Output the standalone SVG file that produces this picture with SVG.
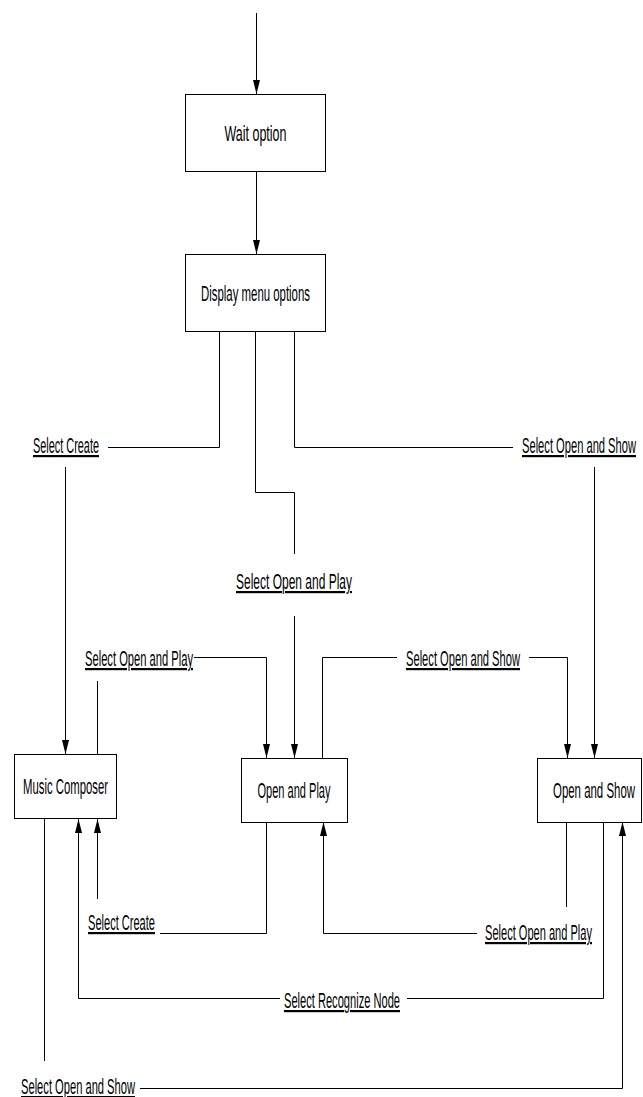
<svg xmlns="http://www.w3.org/2000/svg" width="643" height="1097" viewBox="0 0 643 1097">
<style>
.box{fill:#fff;stroke:#000;stroke-width:1}
.ln{fill:none;stroke:#000;stroke-width:1}
.t{font-family:"Liberation Sans",Arial,sans-serif;font-size:22px;fill:#000}
.c{text-anchor:middle}
.u{text-decoration:underline}
</style>
<defs>
<marker id="ah" markerUnits="userSpaceOnUse" markerWidth="14" markerHeight="8" refX="14" refY="4" orient="auto">
<path d="M0,0.5 L14,4 L0,7.5 z" fill="#000"/>
</marker>
</defs>
<g id="connectors">
<path class="ln" d="M256.5,13 V94" marker-end="url(#ah)"/>
<path class="ln" d="M256.5,172 V254" marker-end="url(#ah)"/>
<path class="ln" d="M219.5,332 V447.5 H108"/>
<path class="ln" d="M65.5,467 V754" marker-end="url(#ah)"/>
<path class="ln" d="M255.5,332 V492.5 H294.5 V554"/>
<path class="ln" d="M294.5,616 V758" marker-end="url(#ah)"/>
<path class="ln" d="M294.5,332 V447.5 H513"/>
<path class="ln" d="M594.5,467 V758" marker-end="url(#ah)"/>
<path class="ln" d="M97.5,754 V681"/>
<path class="ln" d="M194,657.5 H266.5 V758" marker-end="url(#ah)"/>
<path class="ln" d="M322.5,758 V657.5 H397"/>
<path class="ln" d="M529,657.5 H567.5 V758" marker-end="url(#ah)"/>
<path class="ln" d="M266.5,822 V933.5 H160"/>
<path class="ln" d="M97.5,899 V819" marker-end="url(#ah)"/>
<path class="ln" d="M566.5,822 V907"/>
<path class="ln" d="M477,933.5 H323.5 V822" marker-end="url(#ah)"/>
<path class="ln" d="M603.5,822 V998.5 H407"/>
<path class="ln" d="M280,998.5 H78.5 V819" marker-end="url(#ah)"/>
<path class="ln" d="M44.5,819 V1061"/>
<path class="ln" d="M140,1088.5 H622.5 V822" marker-end="url(#ah)"/>
</g>
<g id="labels">
<text class="t u" x="33" y="453" textLength="66" lengthAdjust="spacingAndGlyphs">Select Create</text>
<text class="t u" x="522" y="453" textLength="114" lengthAdjust="spacingAndGlyphs">Select Open and Show</text>
<text class="t u" x="236" y="589" textLength="116" lengthAdjust="spacingAndGlyphs">Select Open and Play</text>
<text class="t u" x="85" y="666" textLength="108" lengthAdjust="spacingAndGlyphs">Select Open and Play</text>
<text class="t u" x="406" y="666" textLength="114" lengthAdjust="spacingAndGlyphs">Select Open and Show</text>
<text class="t u" x="88" y="930" textLength="67" lengthAdjust="spacingAndGlyphs">Select Create</text>
<text class="t u" x="485" y="940" textLength="107" lengthAdjust="spacingAndGlyphs">Select Open and Play</text>
<text class="t u" x="284" y="1008" textLength="116" lengthAdjust="spacingAndGlyphs">Select Recognize Node</text>
<text class="t u" x="21" y="1094" textLength="114" lengthAdjust="spacingAndGlyphs">Select Open and Show</text>
</g>
<g id="wait-option">
<rect class="box" x="185.5" y="94.5" width="140" height="77"/>
<text class="t c" x="255.5" y="141" textLength="62" lengthAdjust="spacingAndGlyphs">Wait option</text>
</g>
<g id="display-menu-options">
<rect class="box" x="185.5" y="254.5" width="140" height="77"/>
<text class="t c" x="255.5" y="301" textLength="109" lengthAdjust="spacingAndGlyphs">Display menu options</text>
</g>
<g id="music-composer">
<rect class="box" x="14.5" y="754.5" width="102" height="64"/>
<text class="t c" x="65.5" y="794" textLength="85" lengthAdjust="spacingAndGlyphs">Music Composer</text>
</g>
<g id="open-and-play">
<rect class="box" x="241.5" y="758.5" width="106" height="64"/>
<text class="t c" x="294" y="798" textLength="73" lengthAdjust="spacingAndGlyphs">Open and Play</text>
</g>
<g id="open-and-show">
<rect class="box" x="537.5" y="758.5" width="104" height="64"/>
<text class="t c" x="594" y="798" textLength="82" lengthAdjust="spacingAndGlyphs">Open and Show</text>
</g>
</svg>
